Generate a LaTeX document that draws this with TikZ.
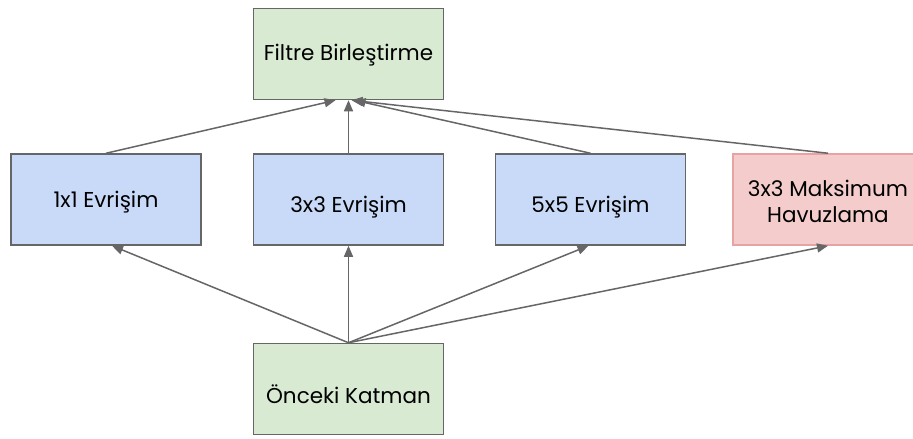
\documentclass[tikz,border=0pt]{standalone}
\usepackage{fontspec}
\setmainfont{Poppins}
\usetikzlibrary{arrows.meta}

\definecolor{kutuyesil}{HTML}{D9EAD3}
\definecolor{kutumavi}{HTML}{C9DAF8}
\definecolor{kutupembe}{HTML}{F4CCCC}
\definecolor{kenarpembe}{HTML}{E6A3A3}
\definecolor{cizgi}{HTML}{666666}

% metni kutu icinde asagi kaydir
\newcommand{\asagi}[2]{\raisebox{-#1}[\height][\depth]{#2}}

\tikzset{
  katman/.style={rectangle,draw=cizgi,line width=1.5pt,minimum width=190pt,
    minimum height=91pt,inner sep=0pt,font=\fontsize{21.5}{26}\selectfont,align=center},
  ok/.style={draw=cizgi,line width=1.5pt,-{Triangle[length=11pt,width=9pt]}}
}

\begin{document}
\begin{tikzpicture}[x=1pt,y=-1pt]
  \useasboundingbox (0,0) rectangle (913,439);

  \begin{scope}
    \clip (0,0) rectangle (913,439);
    \node[katman,fill=kutuyesil] (filtre) at (348.5,54) {\asagi{1pt}{Filtre Birleştirme}};
    \node[katman,fill=kutumavi]  (conv1)  at (106,199.5) {\asagi{3pt}{1x1 Evrişim}};
    \node[katman,fill=kutumavi]  (conv3)  at (348.5,199.5) {\asagi{8pt}{3x3 Evrişim}};
    \node[katman,fill=kutumavi]  (conv5)  at (590.5,199.5) {\asagi{8pt}{5x5 Evrişim}};
    \node[katman,fill=kutupembe,draw=kenarpembe] (havuz) at (828,199.5)
      {\asagi{2pt}{3x3 Maksimum}\\\asagi{2pt}{Havuzlama}};
    \node[katman,fill=kutuyesil] (onceki) at (348.5,389) {\asagi{5pt}{Önceki Katman}};
  \end{scope}

  % ust oklar
  \path[ok] (conv1.north) -- ([xshift=-13pt]filtre.south);
  \path[ok] (conv3.north) -- (filtre.south);
  \path[ok] (conv5.north) -- ([xshift=6pt]filtre.south);
  \path[ok] (havuz.north) -- ([xshift=3pt]filtre.south);

  % alt oklar
  \path[ok] (onceki.north) -- ([xshift=6pt]conv1.south);
  \path[ok] (onceki.north) -- (conv3.south);
  \path[ok] (onceki.north) -- ([xshift=-2pt]conv5.south);
  \path[ok] (onceki.north) -- (havuz.south);
\end{tikzpicture}
\end{document}
